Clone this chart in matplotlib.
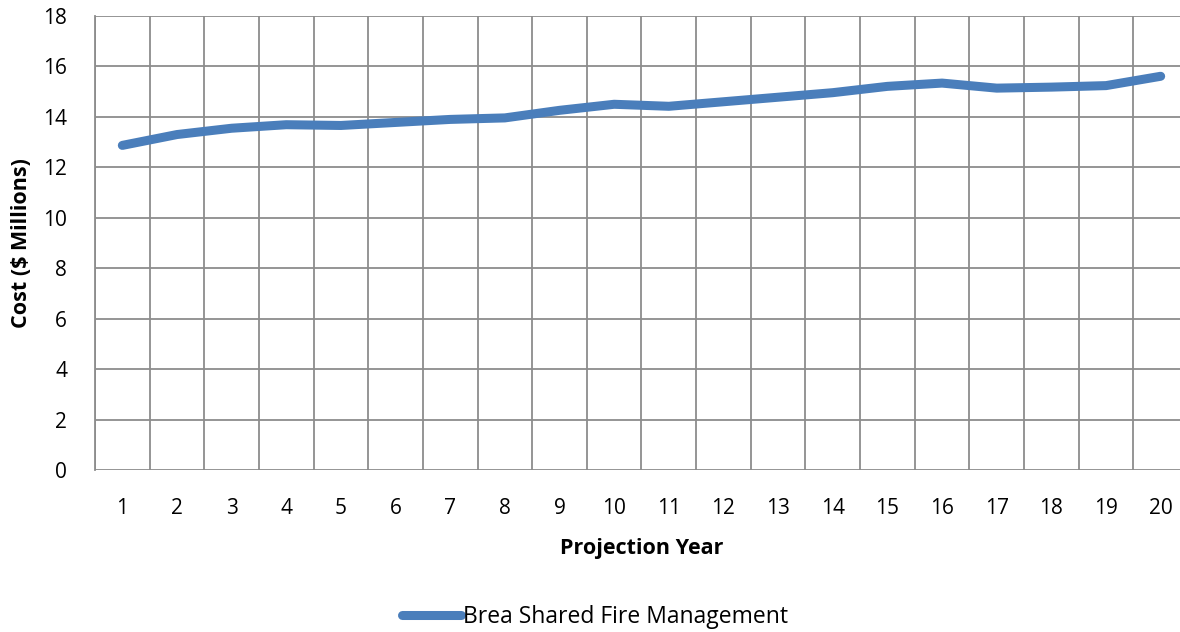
import matplotlib.pyplot as plt

# Projected annual cost, $ millions
years = list(range(1, 21))
cost = [12.87, 13.30, 13.55, 13.69, 13.66, 13.78, 13.90, 13.96, 14.26, 14.50,
        14.42, 14.60, 14.78, 14.96, 15.21, 15.34, 15.14, 15.18, 15.24, 15.61]
series_name = 'Brea Shared Fire Management'

plt.rcParams['font.family'] = ['Open Sans', 'DejaVu Sans']

fig = plt.figure(figsize=(11.8, 6.32), dpi=100)
ax = fig.add_axes([95 / 1180, 1 - 470 / 632, 1093 / 1180, 454 / 632])

ax.plot(years, cost, color='#4a7ebb', linewidth=6.5, solid_capstyle='round',
        solid_joinstyle='round', label=series_name, zorder=3)

ax.set_xlim(0.5, 20.5)
ax.set_ylim(0, 18)
ax.set_yticks(range(0, 19, 2))
ax.set_xticks(years)

# category gridlines sit between the year labels
ax.set_xticks([y + 0.5 for y in range(0, 20)], minor=True)
ax.grid(which='minor', axis='x', color='#8c8c8c', linewidth=1.3)
ax.grid(which='major', axis='y', color='#8c8c8c', linewidth=1.3)
ax.set_axisbelow(True)

for side in ['top', 'right', 'bottom']:
    ax.spines[side].set_visible(False)
ax.spines['left'].set_color('#8c8c8c')
ax.spines['left'].set_linewidth(1.3)

ax.tick_params(which='both', length=0, labelsize=15, colors='black')
ax.tick_params(axis='x', pad=20)
ax.tick_params(axis='y', pad=20)

ax.set_xlabel('Projection Year', fontsize=15.5, fontweight='bold', labelpad=14)
ax.set_ylabel('Cost ($ Millions)', fontsize=15.5, fontweight='bold', labelpad=8)

fig.legend(loc='center', bbox_to_anchor=(595 / 1180, 1 - 617 / 632), frameon=False,
           fontsize=16.5, handlelength=2.6, handletextpad=0.1)

fig.savefig('out.png', dpi=100)
